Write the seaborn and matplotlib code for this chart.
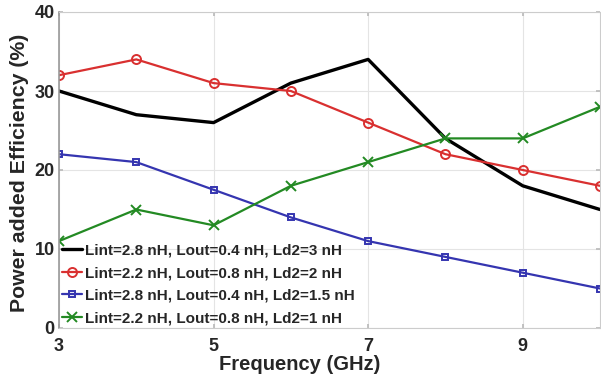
import matplotlib
matplotlib.use("Agg")
import matplotlib.pyplot as plt
import seaborn as sns
import pandas as pd

freq = [3, 4, 5, 6, 7, 8, 9, 10]
pae_a = [30, 27, 26, 31, 34, 24, 18, 15]
pae_b = [32, 34, 31, 30, 26, 22, 20, 18]
pae_c = [22, 21, 17.5, 14, 11, 9, 7, 5]
pae_d = [11, 15, 13, 18, 21, 24, 24, 28]
labels = ["Lint=2.8 nH, Lout=0.4 nH, Ld2=3 nH",
          "Lint=2.2 nH, Lout=0.8 nH, Ld2=2 nH",
          "Lint=2.8 nH, Lout=0.4 nH, Ld2=1.5 nH",
          "Lint=2.2 nH, Lout=0.8 nH, Ld2=1 nH"]
xticks = [3, 5, 7, 9]
yticks = [0, 10, 20, 30, 40]

sns.set_theme(style="whitegrid")
plt.rcParams['font.family'] = ['Liberation Sans', 'DejaVu Sans']

fig = plt.figure(figsize=(6.01, 3.78), dpi=100)
ax = fig.add_axes([59/601, 1-328/378, 541/601, 316/378])

styles = [
    dict(color="black", marker=None, lw=2.4),
    dict(color="#d93030", marker="o", lw=1.6),
    dict(color="#3535b0", marker="s", lw=1.6),
    dict(color="#238a23", marker="x", lw=1.6),
]
for vals, lab, st in zip([pae_a, pae_b, pae_c, pae_d], labels, styles):
    df = pd.DataFrame({"f": freq, "p": vals})
    kw = dict(color=st["color"], linewidth=st["lw"], label=lab, ax=ax)
    if st["marker"]:
        kw.update(marker=st["marker"], markersize=6.5 if st["marker"] != "s" else 5,
                  markerfacecolor="none", markeredgecolor=st["color"],
                  markeredgewidth=1.4)
    sns.lineplot(data=df, x="f", y="p", **kw)

ax.set_xlim(3, 10)
ax.set_ylim(0, 40)
ax.set_xticks(xticks)
ax.set_yticks(yticks)
ax.set_xticklabels([str(t) for t in xticks], fontsize=13, fontweight="bold")
ax.set_yticklabels([str(t) for t in yticks], fontsize=13, fontweight="bold")
ax.tick_params(axis="both", direction="in", length=3, color="#bbbbbb",
               right=True, top=True, left=True, bottom=True)
ax.tick_params(axis="x", pad=7)
ax.tick_params(axis="y", pad=3)
ax.grid(True, color="#e4e4e4", linewidth=0.8)
for s in ax.spines.values():
    s.set_color("#cccccc")
    s.set_linewidth(0.8)
ax.spines["left"].set_color("#999999")
ax.spines["left"].set_linewidth(1.2)

ax.set_xlabel("Frequency (GHz)", fontsize=14.5, fontweight="bold")
ax.xaxis.set_label_coords((300 - 59) / 541, -0.085)
ax.set_ylabel("Power added Efficiency (%)", fontsize=15.3, fontweight="bold")
ax.yaxis.set_label_coords((29 - 59) / 541, 0.49)

leg = ax.legend(loc="lower left", bbox_to_anchor=(-0.005, -0.01), frameon=False,
                prop=dict(family="Liberation Sans", weight="bold", size=11),
                handlelength=1.3, handletextpad=0.15, labelspacing=0.55,
                borderaxespad=0.2, borderpad=0.2)

fig.savefig("out.png", dpi=100)
